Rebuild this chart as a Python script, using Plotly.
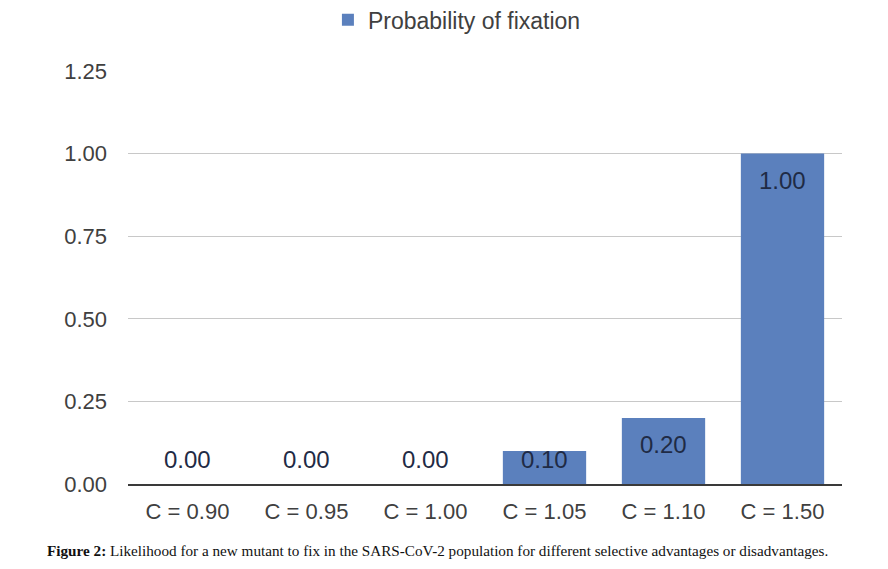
import plotly.graph_objects as go

categories = ["C = 0.90", "C = 0.95", "C = 1.00", "C = 1.05", "C = 1.10", "C = 1.50"]
values = [0.00, 0.00, 0.00, 0.10, 0.20, 1.00]
series_name = "Probability of fixation"
y_ticks = [0.00, 0.25, 0.50, 0.75, 1.00, 1.25]
caption_bold = "Figure 2:"
caption_text = " Likelihood for a new mutant to fix in the SARS-CoV-2 population for different selective advantages or disadvantages."

bar_color = "#5B80BD"
text_color = "#404040"
sans = "Liberation Sans, Arial"

fig = go.Figure()
fig.add_trace(go.Bar(
    x=categories, y=values, name=series_name,
    marker=dict(color=bar_color, line=dict(width=0)),
    width=0.7, showlegend=True,
))

# data labels: inside end, but never below a minimum height above the baseline
offset = 0.08
min_center = 0.073
for c, v in zip(categories, values):
    fig.add_annotation(
        x=c, y=max(v - offset, min_center), text=f"{v:.2f}",
        showarrow=False, xref="x", yref="y",
        font=dict(family=sans, size=24, color="#1F2B45"),
        yanchor="middle",
    )

fig.add_annotation(
    xref="paper", yref="paper", x=-0.116, y=-0.16, xanchor="left", yanchor="middle",
    text=f"<b>{caption_bold}</b>{caption_text}", showarrow=False,
    font=dict(family="Liberation Serif, DejaVu Serif", size=15.2, color="#111111"),
)

fig.update_layout(
    width=888, height=569,
    margin=dict(l=128, r=46, t=71, b=85),
    paper_bgcolor="white", plot_bgcolor="white",
    legend=dict(orientation="h", x=0.28, xanchor="left",
                yref="container", y=0.965, yanchor="middle",
                font=dict(family=sans, size=23, color=text_color),
                itemwidth=30),
    font=dict(family=sans, size=22, color=text_color),
)
fig.update_yaxes(
    range=[0, 1.25], tickvals=y_ticks, ticktext=[f"{t:.2f}" for t in y_ticks],
    showgrid=True, gridcolor="#C8C8C8", gridwidth=1, zeroline=False,
    showline=False, ticks="", ticklabelstandoff=20,
    tickfont=dict(family=sans, size=22, color=text_color),
)
fig.update_xaxes(
    showline=True, linecolor="#3A3A3A", linewidth=2, ticks="",
    ticklabelstandoff=7,
    tickfont=dict(family=sans, size=22, color=text_color),
)

fig.write_html("out.html", config={"displayModeBar": False},
               post_script="document.body.style.margin='0';")
